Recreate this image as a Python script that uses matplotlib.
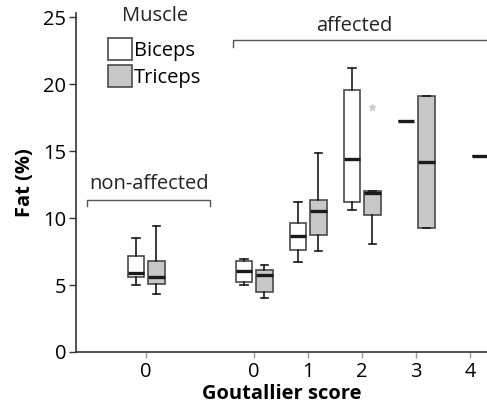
import matplotlib
matplotlib.use("Agg")
import matplotlib.pyplot as plt
from matplotlib.patches import Patch

plt.rcParams['font.family'] = ['Open Sans', 'DejaVu Sans']

# Data
groups = ["non-affected 0", "affected 0", "affected 1", "affected 2", "affected 3", "affected 4"]
positions = [0, 2, 3, 4, 5, 6]
xtick_labels = ["0", "0", "1", "2", "3", "4"]

# Biceps: whislo, q1, med, q3, whishi (None = no data)
biceps_whislo = [5.0, 4.97, 6.72, 10.62, 17.25, None]
biceps_q1     = [5.62, 5.2, 7.59, 11.17, 17.25, None]
biceps_med    = [5.9, 6.07, 8.68, 14.43, 17.25, None]
biceps_q3     = [7.16, 6.81, 9.63, 19.55, 17.25, None]
biceps_whishi = [8.53, 6.92, 11.2, 21.2, 17.25, None]
biceps_fliers = [[], [], [], [], [], []]

triceps_whislo = [4.3, 4.0, 7.51, 8.04, 9.23, 14.65]
triceps_q1     = [5.05, 4.48, 8.7, 10.25, 9.23, 14.65]
triceps_med    = [5.62, 5.77, 10.52, 11.84, 14.18, 14.65]
triceps_q3     = [6.81, 6.12, 11.34, 12.01, 19.1, 14.65]
triceps_whishi = [9.43, 6.49, 14.85, 12.01, 19.1, 14.65]
triceps_fliers = [[], [], [], [18.26], [], []]

yticks = [0, 5, 10, 15, 20, 25]

fig = plt.figure(figsize=(4.87, 4.11), dpi=100)
ax = fig.add_axes([0.156, 0.1436, 0.844, 0.8244])

def stats(wl, q1, md, q3, wh, fl):
    out, pos = [], []
    for i in range(len(wl)):
        if wl[i] is None:
            continue
        out.append(dict(whislo=wl[i], q1=q1[i], med=md[i], q3=q3[i], whishi=wh[i], fliers=fl[i]))
        pos.append(i)
    return out, pos

off = 0.19
w = 0.31
edge = '#4a4a4a'
FS = 14.5
for (wl, q1, md, q3, wh, fl, sign, face) in [
        (biceps_whislo, biceps_q1, biceps_med, biceps_q3, biceps_whishi, biceps_fliers, -1, 'white'),
        (triceps_whislo, triceps_q1, triceps_med, triceps_q3, triceps_whishi, triceps_fliers, 1, '#c8c8c8')]:
    st, idx = stats(wl, q1, md, q3, wh, fl)
    pos = [positions[i] + sign * off for i in idx]
    ax.bxp(st, positions=pos, widths=w, patch_artist=True, showfliers=True,
           boxprops=dict(facecolor=face, edgecolor=edge, linewidth=1.2),
           medianprops=dict(color='#1a1a1a', linewidth=2.4, solid_capstyle='butt'),
           whiskerprops=dict(color='#1a1a1a', linewidth=1.2),
           capprops=dict(color='#1a1a1a', linewidth=1.2),
           capwidths=w * 0.45,
           flierprops=dict(marker='*', markersize=5, markerfacecolor='#cccccc',
                           markeredgecolor='#cccccc'))

ax.set_xlim(-1.3, 6.31)
ax.set_ylim(0, 25.3)
ax.set_yticks(yticks)
ax.set_yticklabels([str(t) for t in yticks], fontsize=FS)
ax.set_xticks(positions)
ax.set_xticklabels(xtick_labels, fontsize=FS)
ax.tick_params(axis='y', direction='out', length=5, width=1, color='#333333', pad=2)
ax.tick_params(axis='x', direction='out', length=4, width=1, color='#999999', pad=3)
for s in ['top', 'right']:
    ax.spines[s].set_visible(False)
for s in ['left', 'bottom']:
    ax.spines[s].set_color('#333333')
    ax.spines[s].set_linewidth(1.2)

ax.set_ylabel('Fat (%)', fontsize=FS, fontweight='bold', labelpad=6)
ax.set_xlabel('Goutallier score', fontsize=FS, fontweight='bold', labelpad=2)

# brackets
bc = '#555555'
ax.plot([-1.1, -1.1, 1.19, 1.19], [10.9, 11.35, 11.35, 10.9], color=bc, lw=1, clip_on=False)
ax.text(0.05, 11.8, 'non-affected', ha='center', va='bottom', fontsize=FS, color='#222222')
ax.plot([1.6, 1.6, 6.4], [22.8, 23.3, 23.3], color=bc, lw=1, clip_on=False)
ax.text(3.85, 23.6, 'affected', ha='center', va='bottom', fontsize=FS, color='#222222')

handles = [Patch(facecolor='white', edgecolor=edge, linewidth=1.2, label='Biceps'),
           Patch(facecolor='#c8c8c8', edgecolor=edge, linewidth=1.2, label='Triceps')]
leg = fig.legend(handles=handles, loc='upper left', bbox_to_anchor=(108 / 487, 1 - 38 / 411),
                 frameon=False, fontsize=FS, handlelength=1.2, borderpad=0,
                 handleheight=1.3, handletextpad=0.1, labelspacing=0.22, borderaxespad=0)
fig.text(155 / 487, 1 - 16 / 411, 'Muscle', ha='center', va='center', fontsize=FS, color='#222222')

fig.savefig('out.png', dpi=100)
